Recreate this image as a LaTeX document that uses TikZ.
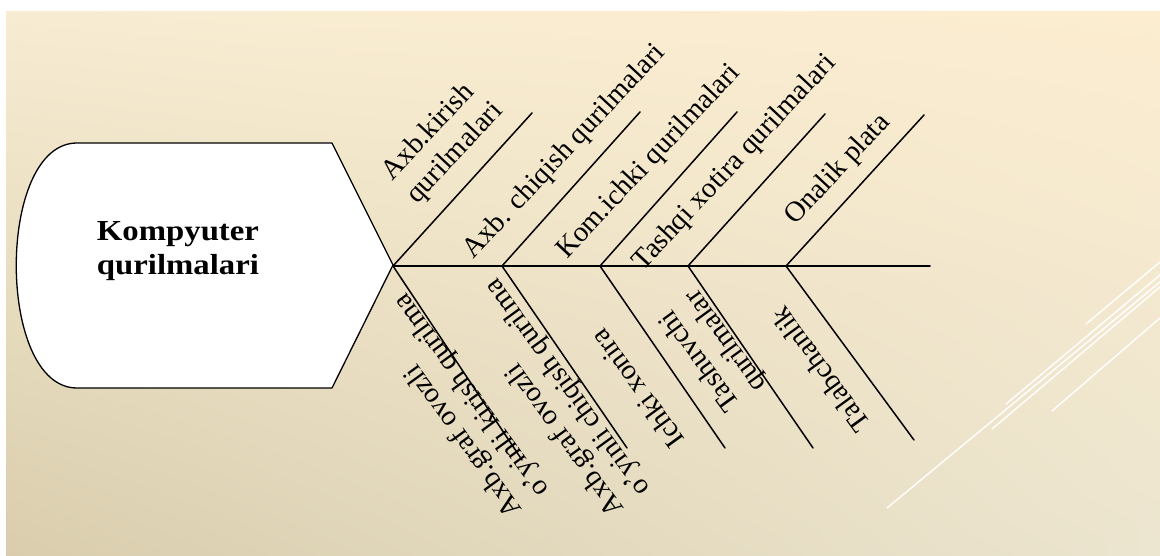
\documentclass[tikz,border=0pt]{standalone}
\usepackage{fontspec}
\setmainfont{Liberation Serif}
\usetikzlibrary{arrows}
\usetikzlibrary{shadings}
\definecolor{f6ebd1}{rgb}{0.969,0.925,0.824}
\definecolor{fcedd0}{rgb}{0.988,0.929,0.816}
\definecolor{d9cdad}{rgb}{0.851,0.804,0.678}
\definecolor{ece5cf}{rgb}{0.925,0.898,0.812}
\tikzset{
  bone/.style={line width=1.5pt},
  toplabel/.style={rotate=47,font=\fontsize{28.5}{34}\selectfont,align=left,inner sep=0pt},
  botlabel/.style={rotate=126,font=\fontsize{28.5}{33}\selectfont,align=left,inner sep=0pt}
}

\begin{document}
\begin{tikzpicture}[line cap=round,line join=round,x=1pt,y=-1pt]
\useasboundingbox (0,0) rectangle (1160,556);
\shade [upper left=f6ebd1,upper right=fcedd0,lower left=d9cdad,lower right=ece5cf] (6,12) rectangle (1160,556);
% white strokes, lower right
\draw [white,line width=1.4pt] (1086,324) -- (1160,262);
\draw [white,line width=1.4pt] (1006,404) -- (1160,275);
\draw [white,line width=1.4pt] (887,508) -- (1160,282);
\draw [white,line width=1.4pt] (992,429) -- (1160,287);
\draw [white,line width=1.4pt] (1052,411) -- (1160,318);
% head
\draw [fill=white,line width=1.3pt] (77,143) -- (332,143) -- (393,265) -- (332,388) -- (77,388) .. controls (-4,388) and (-4,143) .. (77,143);
\node [font=\bfseries\fontsize{29}{34}\selectfont,align=left,xscale=1.13,transform shape] (title) at (178,251) {Kompyuter\\qurilmalari};
% spine
\coordinate (head) at (393,266);
\coordinate (tail) at (930,266);
\draw [bone] (head) -- (tail);
\coordinate (b2) at (502,266);
\coordinate (b3) at (600,266);
\coordinate (b4) at (688,266);
\coordinate (b5) at (786,266);
% upper bones
\coordinate (t1) at (532,113);
\coordinate (t2) at (640,112);
\coordinate (t3) at (737,112);
\coordinate (t4) at (825,114);
\coordinate (t5) at (924,115);
\draw [bone] (head) -- (t1);
\draw [bone] (b2) -- (t2);
\draw [bone] (b3) -- (t3);
\draw [bone] (b4) -- (t4);
\draw [bone] (b5) -- (t5);
% lower bones
\coordinate (l1) at (522,460);
\coordinate (l2) at (627,448);
\coordinate (l3) at (725,448);
\coordinate (l4) at (813,448);
\coordinate (l5) at (914,440);
\draw [bone] (head) -- (l1);
\draw [bone] (b2) -- (l2);
\draw [bone] (b3) -- (l3);
\draw [bone] (b4) -- (l4);
\draw [bone] (b5) -- (l5);
% labels
\node [toplabel] (kirish) at (443,142) {Axb.kirish\\qurilmalari};
\node [toplabel] (chiqish) at (565,152) {Axb. chiqish qurilmalari};
\node [toplabel] (ichki) at (649,162) {Kom.ichki qurilmalari};
\node [toplabel] (tashqi) at (735,163) {Tashqi xotira qurilmalari};
\node [toplabel] (plata) at (838,170) {Onalik plata};
\node [botlabel] (ovkirish) at (459,405) {Axb.graf ovozli\\o'yinli kirish qurilma};
\node [botlabel] (ovchiqish) at (555,397) {Axb.graf ovozli\\o'yinli chiqish qurilma};
\node [botlabel] (xonira) at (637,389) {Ichki xonira};
\node [botlabel] (tashuvchi) at (713,350) {Tashuvchi\\qurilmalar};
\node [botlabel] (talab) at (820,370) {Talabchanlik};
\end{tikzpicture}
\end{document}
